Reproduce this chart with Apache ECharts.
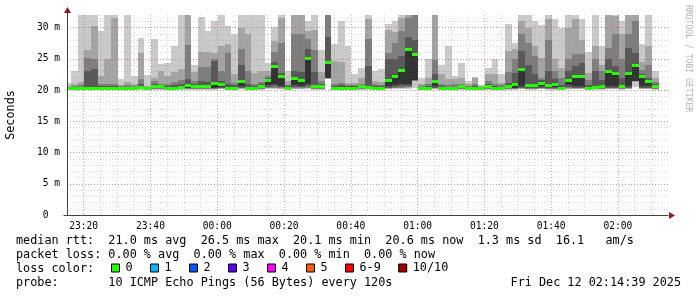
<!DOCTYPE html>
<html><head><meta charset="utf-8">
<script src="https://cdn.jsdelivr.net/npm/echarts@6/dist/echarts.min.js"></script>
<style>html,body{margin:0;padding:0;background:#fff}#c{width:697px;height:297px}</style>
</head><body><div id="c"></div>
<script>
// ---- time slots: 2-minute steps, first slot starts 23:14:12 (minutes relative to 00:00)
const slotStartMin = -45.8;
const slotMinutes = 2;

// ---- sorted ping values per slot (ms): p1 = fastest ... p10 = slowest, median = p6
const p10 = [
21.1,23.0,34,34,34,29.5,34,34,21.8,34,
22.2,28.4,22.4,28.1,24.2,24.4,27.0,34,34,24.0,
31.7,29.5,31.0,34,30.2,29.0,34,34,34,34,
24.3,30.1,34,23.1,34,34,31.1,34,26.4,34,
27.4,31.1,27.1,22.6,23.5,34,23.1,23.4,30.5,31.1,
34,34,34,22.0,25.0,34,24.0,27.1,22.3,24.4,
21.5,22.1,20.8,23.6,25.0,22.6,30.6,27.6,34,34,
31.0,30.4,34,31.3,30.0,34,34,31.4,26.1,34,
27.0,34,34,31.0,34,34,27.3,34,23.1];
const p9 = [
20.7,21.0,21.3,26.4,30.2,22.2,25.0,31.5,20.8,21.3,
20.9,26.0,20.6,22.0,23.1,22.2,22.9,23.3,34,22.9,
26.1,26.1,26.0,27.0,27.4,22.6,30.0,29.0,22.8,23.1,
23.0,27.8,31.5,21.5,34,34,29.5,29.6,22.9,34,
24.6,24.5,21.2,21.2,22.0,31.3,21.5,21.3,29.6,29.3,
31.5,34,34,21.0,22.0,34,22.5,21.8,21.8,22.0,
20.9,22.0,20.6,22.6,22.6,21.2,26.3,26.6,31.0,30.0,
27.0,25.2,31.4,25.0,23.5,30.0,31.4,28.0,22.8,27.0,
24.0,34,31.8,29.0,34,34,24.5,27.0,22.0];
const p8 = [
20.5,20.7,20.8,25.1,25.0,20.9,20.9,20.9,20.6,20.8,
20.6,21.8,20.5,21.5,20.9,20.9,21.3,21.6,27.2,21.5,
23.7,23.7,25.0,23.0,26.0,21.2,26.6,23.1,21.0,21.3,
22.3,26.1,27.5,20.8,29.0,29.0,28.2,26.4,21.5,34,
21.0,21.2,20.8,20.8,20.9,28.2,20.9,20.8,26.0,27.5,
29.4,31.5,32.5,20.6,21.0,24.8,21.0,20.8,21.0,21.0,
20.6,21.0,20.5,21.4,21.0,20.8,22.9,25.0,29.0,27.5,
25.5,22.0,28.0,23.0,22.0,25.0,25.8,25.8,21.6,25.0,
23.0,26.8,29.0,25.0,29.0,31.0,23.2,24.0,21.3];
const p7 = [
20.4,20.5,20.5,23.0,23.4,20.6,20.6,20.6,20.5,20.5,
20.5,21.0,20.4,20.9,20.7,20.6,20.8,21.0,21.8,21.0,
21.4,21.3,24.7,21.5,21.0,20.8,24.0,20.9,20.7,20.9,
22.0,24.5,22.8,20.6,23.0,22.9,26.6,22.9,21.0,28.5,
20.7,20.8,20.6,20.6,20.7,23.8,20.6,20.6,25.0,25.0,
25.5,28.5,28.0,20.4,20.6,22.5,20.6,20.5,20.5,20.8,
20.4,20.6,20.4,20.9,20.6,20.5,21.2,22.8,26.3,24.0,
22.5,21.6,23.0,21.8,20.8,23.0,23.9,24.3,20.8,23.0,
21.6,25.0,23.8,22.0,26.8,26.0,22.6,22.0,20.9];
const median = [
20.3,20.3,20.3,20.4,20.4,20.3,20.3,20.3,20.3,20.3,
20.3,20.5,20.3,20.6,20.6,20.4,20.4,20.5,20.8,20.7,
20.6,20.6,21.1,21.0,20.4,20.4,21.5,20.4,20.4,20.6,
21.6,23.9,22.2,20.4,21.9,21.6,25.2,20.7,20.7,24.5,
20.4,20.4,20.4,20.4,20.6,20.5,20.4,20.4,21.6,22.3,
23.2,26.5,25.8,20.3,20.4,21.4,20.3,20.3,20.3,20.6,
20.3,20.3,20.3,20.6,20.3,20.3,20.6,20.9,23.3,20.8,
20.8,21.2,20.8,20.9,20.4,21.6,22.3,22.2,20.3,20.5,
20.7,23.0,22.7,20.7,22.7,24.0,22.3,21.5,20.7];
const p5 = [
20.2,20.2,20.2,20.2,20.2,20.2,20.2,20.2,20.2,20.2,
20.2,20.3,20.2,20.4,20.4,20.3,20.3,20.3,20.4,20.4,
20.4,20.4,20.4,20.5,20.3,20.3,20.6,20.3,20.3,20.4,
20.8,21.0,20.7,20.3,20.8,20.7,21.0,20.4,20.5,22.0,
20.3,20.3,20.3,20.3,20.4,20.3,20.3,20.3,20.6,20.8,
20.9,21.0,21.6,20.2,20.3,20.7,20.2,20.2,20.2,20.4,
20.2,20.2,20.2,20.4,20.2,20.2,20.4,20.4,20.7,20.5,
20.5,20.6,20.5,20.5,20.3,20.8,20.6,20.6,20.2,20.3,
20.4,20.6,20.7,20.4,20.6,21.4,20.7,20.6,20.4];
const p4 = [
20.1,20.1,20.1,20.2,20.2,20.1,20.1,20.1,20.1,20.1,
20.1,20.2,20.1,20.3,20.3,20.2,20.2,20.2,20.3,20.3,
20.3,20.3,20.3,20.4,20.2,20.2,20.4,20.2,20.2,20.3,
20.5,20.7,20.5,20.2,20.5,20.5,20.6,20.3,20.3,21.9,
20.2,20.2,20.2,20.2,20.3,20.2,20.2,20.2,20.4,20.5,
20.6,20.7,21.6,20.1,20.2,20.4,20.1,20.1,20.1,20.3,
20.1,20.1,20.1,20.3,20.1,20.1,20.3,20.3,20.4,20.3,
20.3,20.4,20.3,20.3,20.2,20.5,20.4,20.4,20.1,20.2,
20.3,20.4,20.4,20.3,20.4,21.4,20.4,20.4,20.3];
const p3 = [
20.1,20.1,20.1,20.1,20.1,20.1,20.1,20.1,20.1,20.1,
20.1,20.1,20.1,20.2,20.2,20.1,20.1,20.1,20.2,20.2,
20.2,20.2,20.2,20.3,20.1,20.1,20.3,20.1,20.1,20.2,
20.4,20.4,20.4,20.1,20.4,20.3,20.4,20.2,20.2,21.9,
20.1,20.1,20.1,20.1,20.2,20.1,20.1,20.1,20.3,20.4,
20.4,20.5,21.5,20.1,20.1,20.3,20.1,20.1,20.1,20.2,
20.1,20.1,20.1,20.2,20.1,20.1,20.2,20.2,20.3,20.2,
20.2,20.3,20.2,20.2,20.1,20.3,20.3,20.3,20.1,20.1,
20.2,20.3,20.3,20.2,20.3,21.4,20.3,20.3,20.2];
const p2 = [
20.0,20.0,20.0,20.1,20.1,20.0,20.0,20.0,20.0,20.0,
20.0,20.1,20.0,20.1,20.1,20.1,20.1,20.1,20.1,20.1,
20.1,20.1,20.1,20.2,20.1,20.1,20.2,20.1,20.1,20.1,
20.3,20.3,20.2,20.1,20.2,20.2,20.3,20.1,20.1,21.8,
20.1,20.1,20.1,20.1,20.1,20.1,20.1,20.1,20.2,20.3,
20.3,20.4,21.5,20.0,20.1,20.2,20.0,20.0,20.0,20.1,
20.0,20.0,20.0,20.1,20.0,20.0,20.1,20.1,20.2,20.1,
20.1,20.2,20.1,20.1,20.1,20.2,20.2,20.2,20.0,20.1,
20.1,20.2,20.2,20.1,20.2,21.3,20.2,20.2,20.1];
const p1 = [
20.0,20.0,20.0,20.0,20.0,20.0,20.0,20.0,20.0,20.0,
20.0,20.0,20.0,20.0,20.0,20.0,20.0,20.0,20.0,20.0,
20.0,20.0,20.0,20.1,20.0,20.0,20.1,20.0,20.0,20.0,
20.1,20.1,20.1,20.0,20.1,20.1,20.1,20.0,20.0,21.8,
20.0,20.0,20.0,20.0,20.0,20.0,20.0,20.0,20.1,20.1,
20.1,20.2,20.3,20.0,20.0,20.1,20.0,20.0,20.0,20.0,
20.0,20.0,20.0,20.0,20.0,20.0,20.0,20.0,20.1,20.0,
20.0,20.1,20.0,20.0,20.0,20.1,20.1,20.1,20.0,20.0,
20.0,20.1,20.1,20.0,20.1,20.5,20.1,20.1,20.0];

// ---- axis ticks / labels
const timeTickValues = [-40,-20,0,20,40,60,80,100,120];
const timeTickLabels = ['23:20','23:40','00:00','00:20','00:40','01:00','01:20','01:40','02:00'];
const yTickUnit = ' m';
const yZeroLabel = '0  ';

// ---- legend / texts
const lossNames  = ['0','1','2','3','4','5','6-9','10/10'];
const lossColors = ['#26ff00','#00b8ff','#0059ff','#5e00ff','#ff00ff','#ff5e00','#ff0000','#a10000'];
const smokeColors = ['#cacaca','#a4a4a4','#7e7e7e','#585858','#323232'];
const rttStats  = ['21.0','26.5','20.1','20.6','1.3','16.1'];
const lossStats = ['0.00','0.00','0.00','0.00'];
const probeText = '10 ICMP Echo Pings (56 Bytes) every 120s';
const dateText = 'Fri Dec 12 02:14:39 2025';
const sideText = 'RRDTOOL / TOBI OETIKER';

// ------------------------------------------------------------------
const MONO = "'DejaVu Sans Mono', 'Liberation Mono', monospace";
const slots = median.map((_, k) => slotStartMin + slotMinutes * k);
const bands = [[p1, p10], [p2, p9], [p3, p8], [p4, p7], [p5, median]];

function clipTo(params, r) {
  const cs = params.coordSys;
  return echarts.graphic.clipRectByRect(r, {x: cs.x, y: cs.y, width: cs.width, height: cs.height});
}
function bandRenderer(color) {
  return function (params, api) {
    const t = api.value(0), lo = api.value(1), hi = api.value(2);
    const a = api.coord([t, lo]);
    const b = api.coord([t + slotMinutes, hi]);
    const x0 = Math.round(a[0]), x1 = Math.round(b[0]);
    const y0 = Math.round(b[1]), y1 = Math.round(a[1]);
    const r = clipTo(params, {x: x0, y: y0, width: x1 - x0, height: Math.max(y1 - y0, 0)});
    if (!r) return null;
    return {type: 'rect', shape: r, style: {fill: color}};
  };
}
function medianRenderer(params, api) {
  const t = api.value(0), m = api.value(1);
  const a = api.coord([t, m]);
  const b = api.coord([t + slotMinutes, m]);
  const x0 = Math.round(a[0]), x1 = Math.round(b[0]);
  const yc = Math.round(a[1]);
  const r = clipTo(params, {x: x0, y: yc - 1, width: x1 - x0, height: 3});
  if (!r) return null;
  return {type: 'rect', shape: r, style: {fill: lossColors[0]}};
}

const series = bands.map((b, i) => ({
  type: 'custom', name: 'smoke' + (i + 1), z: 2, silent: true,
  renderItem: bandRenderer(smokeColors[i]),
  encode: {x: 0, y: [1, 2]},
  data: slots.map((t, k) => [t, b[0][k], b[1][k]])
}));
series.push({
  type: 'custom', name: lossNames[0], z: 2, silent: true,
  itemStyle: {color: lossColors[0]},
  renderItem: medianRenderer,
  encode: {x: 0, y: 1},
  data: slots.map((t, k) => [t, median[k]])
});
for (let i = 1; i < lossNames.length; i++) {
  series.push({type: 'custom', name: lossNames[i], itemStyle: {color: lossColors[i]},
    renderItem: () => null, data: []});
}

const minorGrid = 'rgba(110,110,110,0.26)';
const majorGrid = 'rgba(225,50,50,0.45)';

const line1 = 'median rtt:  ' + rttStats[0] + ' ms avg  ' + rttStats[1] + ' ms max  ' + rttStats[2] +
  ' ms min  ' + rttStats[3] + ' ms now  ' + rttStats[4] + ' ms sd  ' + rttStats[5] + '   am/s';
const line2 = 'packet loss: ' + lossStats[0] + ' % avg  ' + lossStats[1] + ' % max  ' + lossStats[2] +
  ' % min  ' + lossStats[3] + ' % now';
const line3 = 'loss color:';
const line4 = 'probe:       ' + probeText;

function txt(id, x, y, text, extra) {
  return {type: 'text', id: id, x: x, y: y, silent: true,
    style: Object.assign({text: text, font: '11.8px ' + MONO, fill: '#000',
      verticalAlign: 'middle', align: 'left'}, extra || {})};
}

const chart = echarts.init(document.getElementById('c'), null, {renderer: 'canvas'});
chart.setOption({
  animation: false,
  backgroundColor: '#fff',
  textStyle: {fontFamily: MONO},
  grid: {left: 67, right: 29, top: 15, bottom: 82, containLabel: false, outerBoundsMode: 'none'},
  xAxis: {
    type: 'value', min: -45, max: 135, interval: 5, z: 3,
    axisLine: {show: true, onZero: false, lineStyle: {color: '#404040', width: 1}},
    axisTick: {show: false},
    axisLabel: {
      fontFamily: MONO, fontSize: 9.6, color: '#000', margin: 6,
      formatter: v => { const i = timeTickValues.indexOf(v); return i >= 0 ? timeTickLabels[i] : ''; }
    },
    splitLine: {show: true, showMinLine: true, showMaxLine: false,
      lineStyle: {color: [minorGrid, majorGrid, minorGrid, minorGrid], type: [1, 2], width: 1}}
  },
  yAxis: [{
    type: 'value', min: 0, max: 32, interval: 5, z: 3, position: 'left',
    name: 'Seconds', nameLocation: 'middle', nameGap: 50, nameRotate: 90,
    nameTextStyle: {fontFamily: MONO, fontSize: 11.8, color: '#000'},
    axisLine: {show: true, onZero: false, lineStyle: {color: '#404040', width: 1}},
    axisTick: {show: false},
    axisLabel: {fontFamily: MONO, fontSize: 9.6, color: '#000', margin: 7, showMaxLabel: false,
      formatter: v => v === 0 ? yZeroLabel : v + yTickUnit},
    splitLine: {show: true, showMinLine: false, showMaxLine: false,
      lineStyle: {color: majorGrid, type: [1, 2], width: 1}}
  }, {
    type: 'value', min: 0, max: 32, interval: 1, z: 3, position: 'left', offset: 0,
    axisLine: {show: false, onZero: false}, axisTick: {show: false}, axisLabel: {show: false},
    splitLine: {show: true, showMinLine: false, showMaxLine: false,
      lineStyle: {color: minorGrid, type: [1, 2], width: 1}}
  }],
  legend: {
    show: true, orient: 'horizontal', left: 111, top: 262, padding: 0,
    itemWidth: 8, itemHeight: 8, itemGap: 17.4, icon: 'rect', selectedMode: false,
    itemStyle: {borderColor: '#000', borderWidth: 1},
    textStyle: {fontFamily: MONO, fontSize: 11.8, color: '#000', padding: [0, 0, 0, 1]},
    data: lossNames
  },
  series: series,
  graphic: [
    txt('l1', 16, 241, line1),
    txt('l2', 16, 255, line2),
    txt('l3', 16, 269, line3),
    txt('l4', 16, 283, line4),
    txt('date', 681, 283, dateText, {align: 'right'}),
    {type: 'text', id: 'side', x: 688, y: 5, rotation: -Math.PI / 2, silent: true,
      style: {text: sideText, font: '8.1px ' + MONO, fill: '#b4b4b4', align: 'left', verticalAlign: 'middle'}}
  ]
});

// axis arrows (decoration) placed from the axis scales
const origin = chart.convertToPixel({xAxisIndex: 0, yAxisIndex: 0}, [-45, 0]);
const topPt = chart.convertToPixel({xAxisIndex: 0, yAxisIndex: 0}, [-45, 32]);
const rightPt = chart.convertToPixel({xAxisIndex: 0, yAxisIndex: 0}, [135, 0]);
const ax = Math.round(origin[0]) + 0.5, ay = Math.round(origin[1]) + 0.5;
const ty = Math.round(topPt[1]), rx = Math.round(rightPt[0]);
chart.setOption({graphic: [
  {type: 'line', id: 'yext', silent: true, z: 10,
    shape: {x1: ax, y1: ty, x2: ax, y2: ty - 4}, style: {stroke: '#404040', lineWidth: 1}},
  {type: 'line', id: 'xext', silent: true, z: 10,
    shape: {x1: ax - 4, y1: ay, x2: ax, y2: ay}, style: {stroke: '#404040', lineWidth: 1}},
  {type: 'polygon', id: 'yarrow', silent: true, z: 10,
    shape: {points: [[ax - 3.5, ty - 2], [ax + 3.5, ty - 2], [ax, ty - 8]]}, style: {fill: '#8c1a1a'}},
  {type: 'polygon', id: 'xarrow', silent: true, z: 10,
    shape: {points: [[rx + 1, ay - 3.5], [rx + 1, ay + 3.5], [rx + 7, ay]]}, style: {fill: '#8c1a1a'}}
]});
</script>
</body></html>
